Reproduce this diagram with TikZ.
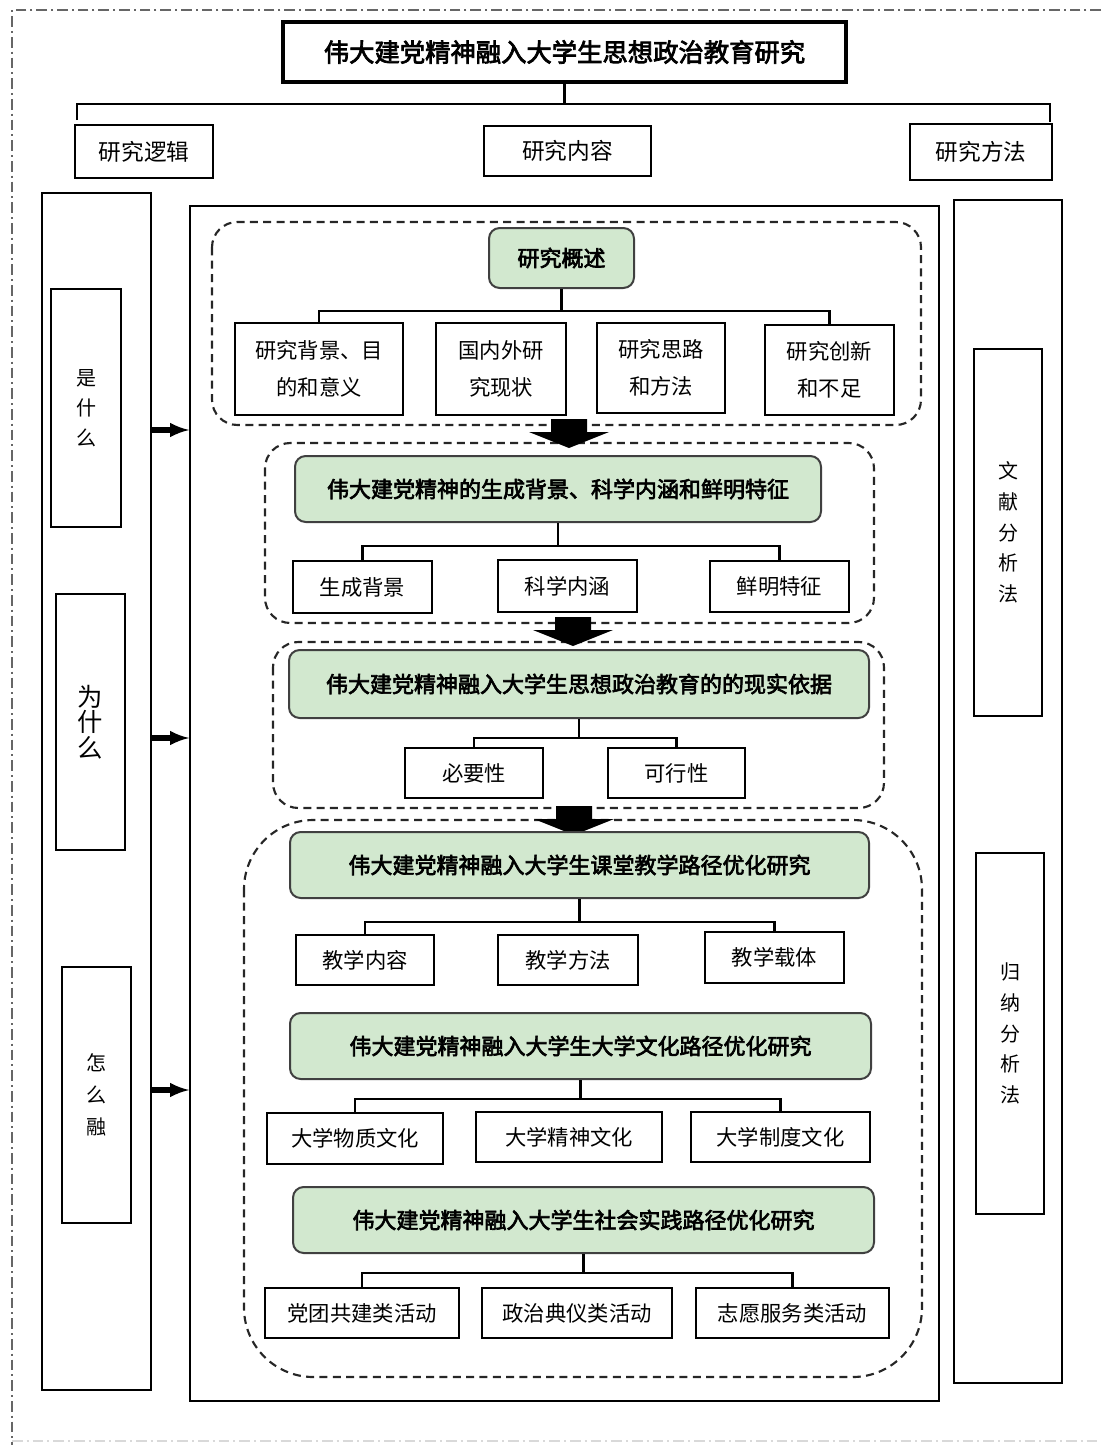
\documentclass[tikz,border=0pt]{standalone}
\usepackage{fontspec}
\newfontfamily\cjk{Noto Sans CJK SC}
\newfontfamily\cjkbf[FakeBold=3]{Noto Sans CJK SC}
\usepackage{tikz}
\usetikzlibrary{arrows}
\definecolor{boxgreen}{RGB}{210,232,207}
\tikzset{
  wh/.style 2 args={minimum width=#1*0.75pt, minimum height=#2*0.75pt},
  plain/.style={draw, line width=1.5pt, fill=white, inner sep=0pt, align=center, font=\cjk\fontsize{16}{28}\selectfont},
  headbox/.style={draw=black!75, fill=boxgreen, rounded corners=8pt, line width=1.5pt, inner sep=0pt, font=\cjkbf\fontsize{16.5}{20}\selectfont},
  side/.style={draw, line width=1.3pt, inner sep=0pt, align=center, font=\cjk\fontsize{15}{23}\selectfont},
  grp/.style={draw=black!85, dash pattern=on 6pt off 4pt, line width=1.6pt},
  link/.style={line width=1.6pt},
  fat/.style={line width=3.8pt, -latex},
}

\begin{document}
\begin{tikzpicture}[x=0.75pt,y=0.75pt,yscale=-1]
\useasboundingbox (0,0) rectangle (1101,1445);

%Outer frame
\draw[black!60, line width=0.8pt, dash pattern=on 8pt off 3pt on 1.5pt off 3pt] (1101,10) -- (12,10) -- (12,1445);
\draw[black!15, line width=0.8pt, dash pattern=on 8pt off 3pt on 1.5pt off 3pt] (12,1441) -- (1101,1441);

% Title
\node[draw, line width=2.4pt, wh={563}{60}, inner sep=0pt, font=\cjkbf\fontsize{19}{22}\selectfont] (ttl) at (564.5,52) {伟大建党精神融入大学生思想政治教育研究};
\node[plain, wh={138}{53}, font=\cjk\fontsize{17}{20}\selectfont] (logic) at (144,151.5) {研究逻辑};
\node[plain, wh={167}{50}, font=\cjk\fontsize{17}{20}\selectfont] (cont) at (567.5,151) {研究内容};
\node[plain, wh={142}{56}, font=\cjk\fontsize{17}{20}\selectfont] (meth) at (981,152) {研究方法};
\coordinate (brL) at (77,120);
\coordinate (brR) at (1050,122);
\coordinate (brM) at (564.5,104);
\draw[link] (ttl.south) -- (brM);
\draw[link] (brL) |- (brM) -| (brR);

% Side columns
\node[side, wh={109}{1197}] (lcol) at (96.5,791.5) {};
\node[side, wh={70}{238}, font=\cjk\fontsize{15}{22.5}\selectfont] (what) at (86,408) {是\\什\\么};
\node[side, wh={69}{256}, font=\cjk\fontsize{19}{19}\selectfont] (why) at (90.5,722) {为\\什\\么};
\node[side, wh={69}{256}, font=\cjk\fontsize{15}{24}\selectfont] (how) at (96.5,1095) {怎\\么\\融};
\node[side, wh={749}{1195}] (main) at (564.5,803.5) {};
\node[side, wh={108}{1183}] (rcol) at (1008,791.5) {};
\node[side, wh={68}{367}] (lit) at (1008,532.5) {文\\献\\分\\析\\法};
\node[side, wh={68}{361}] (ind) at (1010,1033.5) {归\\纳\\分\\析\\法};
\foreach \ay in {430,738,1090}
  \draw[fat] (lcol.east |- 0,\ay) -- (main.west |- 0,\ay);

% Dashed groups
\draw[grp, rounded corners=19pt] (212,222) rectangle (921,425);
\draw[grp, rounded corners=19pt] (265,443) rectangle (874,623);
\draw[grp, rounded corners=19pt] (273,642) rectangle (884,808);
\draw[grp, rounded corners=52pt] (244,820) rectangle (922,1377);
\foreach \ax/\ay in {569/419,573/617,574/806}
  \fill (\ax-18,\ay) -- ++(36,0) -- ++(0,13) -- ++(22,0) -- (\ax,\ay+29) -- (\ax-40,\ay+13) -- ++(22,0) -- cycle;

% Group 1
\node[headbox, wh={145}{60}] (g1) at (561.5,258) {研究概述};
\node[plain, wh={168}{92}] (b11) at (319,369) {研究背景、目\\的和意义};
\node[plain, wh={130}{92}] (b12) at (501,369) {国内外研\\究现状};
\node[plain, wh={128}{90}] (b13) at (661,368) {研究思路\\和方法};
\node[plain, wh={129}{90}] (b14) at (829.5,370) {研究创新\\和不足};
\draw[link] (g1.south) -- ++(0,22) coordinate (m1);
\draw[link] (b11.north) |- (m1) -| (b14.north);

% Group 2
\node[headbox, wh={526}{66}] (g2) at (558,489) {伟大建党精神的生成背景、科学内涵和鲜明特征};
\node[plain, wh={139}{52}] (b21) at (362.5,587) {生成背景};
\node[plain, wh={139}{52}] (b22) at (567.5,586) {科学内涵};
\node[plain, wh={139}{51}] (b23) at (779.5,586.5) {鲜明特征};
\draw[link] (g2.south) -- ++(0,23) coordinate (m2);
\draw[link] (b21.north) |- (m2) -| (b23.north);

% Group 3
\node[headbox, wh={580}{68}] (g3) at (579,684) {伟大建党精神融入大学生思想政治教育的的现实依据};
\node[plain, wh={138}{50}] (b31) at (474,773) {必要性};
\node[plain, wh={137}{50}] (b32) at (676.5,773) {可行性};
\draw[link] (g3.south) -- ++(0,19) coordinate (m3);
\draw[link] (b31.north) |- (m3) -| (b32.north);

% Group 4
\node[headbox, wh={579}{66}] (ga) at (579.5,865) {伟大建党精神融入大学生课堂教学路径优化研究};
\node[plain, wh={138}{50}] (ba1) at (365,960) {教学内容};
\node[plain, wh={140}{50}] (ba2) at (568,960) {教学方法};
\node[plain, wh={139}{51}] (ba3) at (774.5,957.5) {教学载体};
\draw[link] (ga.south) -- ++(0,23) coordinate (ma);
\draw[link] (ba1.north) |- (ma) -| (ba3.north);

\node[headbox, wh={581}{66}] (gb) at (580.5,1046) {伟大建党精神融入大学生大学文化路径优化研究};
\node[plain, wh={176}{51}] (bb1) at (355,1138.5) {大学物质文化};
\node[plain, wh={186}{50}] (bb2) at (569,1137) {大学精神文化};
\node[plain, wh={179}{50}] (bb3) at (780.5,1137) {大学制度文化};
\draw[link] (gb.south) -- ++(0,19) coordinate (mb);
\draw[link] (bb1.north) |- (mb) -| (bb3.north);

\node[headbox, wh={581}{66}] (gc) at (583.5,1220) {伟大建党精神融入大学生社会实践路径优化研究};
\node[plain, wh={194}{50}] (bc1) at (362,1313) {党团共建类活动};
\node[plain, wh={190}{50}] (bc2) at (577,1313) {政治典仪类活动};
\node[plain, wh={193}{50}] (bc3) at (792.5,1313) {志愿服务类活动};
\draw[link] (gc.south) -- ++(0,19) coordinate (mc);
\draw[link] (bc1.north) |- (mc) -| (bc3.north);

\end{tikzpicture}
\end{document}
